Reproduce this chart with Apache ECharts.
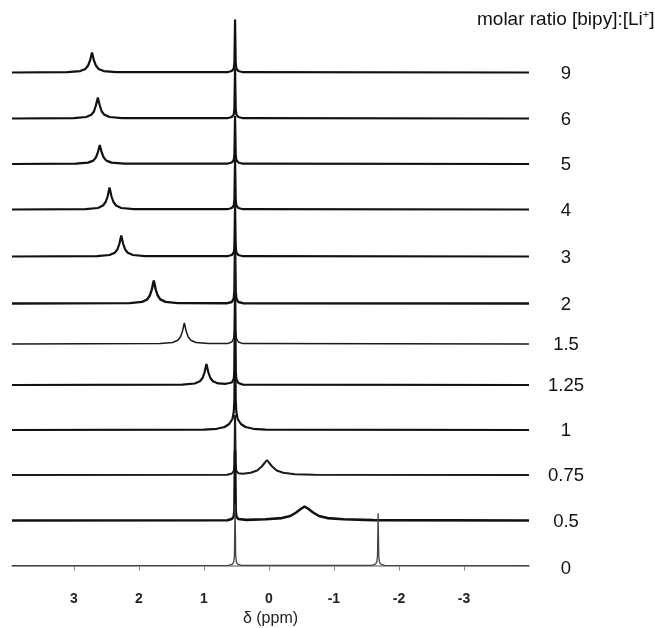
<!DOCTYPE html>
<html>
<head>
<meta charset="utf-8">
<script src="https://cdn.jsdelivr.net/npm/echarts@6/dist/echarts.min.js"></script>
<style>html,body{margin:0;padding:0;background:#fff}#c{width:655px;height:628px}</style>
</head>
<body>
<div id="c"></div>
<script>
// molar ratio [bipy]:[Li+] for each stacked spectrum (top to bottom)
const ratios = ['9', '6', '5', '4', '3', '2', '1.5', '1.25', '1', '0.75', '0.5', '0'];
const tickValues = [3, 2, 1, 0, -1, -2, -3];
const xMin = -4.0, xMax = 3.95;

// spectra: [chemical shift (ppm), intensity (arb. units)]
const spec9 = [[3.95,0],[3.1,0.4],[2.9,1.4],[2.82,3.6],[2.78,7],[2.75,12],[2.72,20],[2.69,12],[2.66,7],[2.62,3.6],[2.54,1.4],[2.35,0.4],[0.64,0.3],[0.57,1.5],[0.54,4],[0.53,10],[0.52,53],[0.51,10],[0.50,4],[0.47,1.5],[0.40,0.3],[-4.0,0]];
const spec6 = [[3.95,0],[3.0,0.4],[2.81,1.5],[2.73,3.8],[2.69,7],[2.66,13],[2.63,21],[2.60,13],[2.57,7],[2.53,3.8],[2.45,1.5],[2.26,0.4],[0.64,0.3],[0.57,1.5],[0.54,4],[0.53,10],[0.52,50],[0.51,10],[0.50,4],[0.47,1.5],[0.40,0.3],[-4.0,0]];
const spec5 = [[3.95,0],[2.97,0.4],[2.78,1.4],[2.70,3.4],[2.66,6.5],[2.63,11.5],[2.60,19],[2.57,11.5],[2.54,6.5],[2.50,3.4],[2.42,1.4],[2.23,0.4],[0.64,0.3],[0.57,1.5],[0.54,4],[0.53,10],[0.52,48],[0.51,10],[0.50,4],[0.47,1.5],[0.40,0.3],[-4.0,0]];
const spec4 = [[3.95,0],[2.82,0.4],[2.63,1.5],[2.55,4],[2.51,7.5],[2.48,13],[2.45,22],[2.42,13],[2.39,7.5],[2.35,4],[2.27,1.5],[2.08,0.4],[0.64,0.3],[0.57,1.5],[0.54,4],[0.53,10],[0.52,50],[0.51,10],[0.50,4],[0.47,1.5],[0.40,0.3],[-4.0,0]];
const spec3 = [[3.95,0],[2.64,0.4],[2.45,1.5],[2.37,3.8],[2.33,7],[2.30,12.5],[2.27,21],[2.24,12.5],[2.21,7],[2.17,3.8],[2.09,1.5],[1.90,0.4],[0.64,0.3],[0.57,1.5],[0.54,4],[0.53,10],[0.52,52],[0.51,10],[0.50,4],[0.47,1.5],[0.40,0.3],[-4.0,0]];
const spec2 = [[3.95,0],[2.14,0.4],[1.95,1.6],[1.87,4.1],[1.83,8],[1.80,14],[1.77,23],[1.74,14],[1.71,8],[1.67,4.1],[1.59,1.6],[1.40,0.4],[0.64,0.3],[0.57,1.5],[0.54,5],[0.53,12],[0.52,62],[0.51,12],[0.50,5],[0.47,1.5],[0.40,0.3],[-4.0,0]];
const spec15 = [[3.95,0],[1.67,0.4],[1.48,1.5],[1.40,3.8],[1.36,7],[1.33,12.5],[1.30,21],[1.27,12.5],[1.24,7],[1.20,3.8],[1.12,1.5],[0.93,0.4],[0.64,0.4],[0.57,2],[0.54,6],[0.53,14],[0.52,90],[0.51,14],[0.50,6],[0.47,2],[0.40,0.4],[-4.0,0]];
const spec125 = [[3.95,0],[1.33,0.4],[1.14,1.5],[1.06,3.8],[1.02,7],[0.99,12.5],[0.96,21],[0.93,12.5],[0.90,7],[0.86,3.8],[0.78,1.6],[0.66,1.2],[0.57,2.5],[0.54,6],[0.53,14],[0.52,90],[0.51,14],[0.50,6],[0.47,2],[0.40,0.4],[-4.0,0]];
const spec1 = [[3.95,0],[1.0,0.4],[0.80,1.2],[0.68,3],[0.61,6],[0.56,11],[0.54,18],[0.53,30],[0.52,95],[0.51,30],[0.50,18],[0.48,11],[0.43,6],[0.36,3],[0.24,1.2],[0.05,0.4],[-4.0,0]];
const spec075 = [[3.95,0],[0.64,0.3],[0.57,1.5],[0.54,4],[0.53,10],[0.52,60],[0.51,10],[0.50,4],[0.47,1.8],[0.40,1.2],[0.28,2.2],[0.18,4.5],[0.11,8.5],[0.06,12.5],[0.03,15],[0.0,12.5],[-0.05,8.5],[-0.12,4.5],[-0.22,2.2],[-0.40,0.8],[-0.70,0.2],[-4.0,0]];
const spec05 = [[3.95,0],[0.64,0.3],[0.57,1.5],[0.54,4],[0.53,10],[0.52,70],[0.51,10],[0.50,4],[0.47,1.5],[0.35,0.6],[0.05,1.2],[-0.20,2.4],[-0.33,4.5],[-0.42,8],[-0.49,11.5],[-0.55,14],[-0.61,11.5],[-0.68,8],[-0.77,4.5],[-0.90,2.4],[-1.15,1.2],[-1.6,0.4],[-4.0,0]];
const spec0 = [[3.95,0],[0.62,0.3],[0.56,1.5],[0.54,4],[0.53,10],[0.52,65],[0.51,10],[0.50,4],[0.48,1.5],[0.42,0.3],[-1.58,0.3],[-1.64,1.5],[-1.66,4],[-1.67,10],[-1.68,55],[-1.69,10],[-1.70,4],[-1.72,1.5],[-1.78,0.3],[-4.0,0]];
const spectra = [spec9, spec6, spec5, spec4, spec3, spec2, spec15, spec125, spec1, spec075, spec05, spec0];

// layout (pixels)
const baselines = [72.5, 118.5, 164, 209.5, 256.5, 303.5, 344, 385, 430, 475, 520.5, 567.5];
const widths = [2.2, 2.2, 2.2, 2.2, 2.2, 2.4, 1.5, 2.2, 2.2, 2, 2.6, 1.3];
const colors = ['#111','#111','#111','#111','#111','#111','#1a1a1a','#111','#111','#1a1a1a','#111','#444'];
const gridLeft = 12, gridWidth = 517, unitPx = 40, axisGap = 14;
const fontFam = 'Liberation Sans, Arial, sans-serif';

const grids = [], xAxes = [], yAxes = [], series = [], graphics = [];
spectra.forEach((d, i) => {
  const last = i === spectra.length - 1;
  grids.push({left: gridLeft, width: gridWidth, top: baselines[i] - unitPx, height: unitPx + (last ? axisGap : 0)});
  xAxes.push(last ? {
    gridIndex: i, type: 'value', min: xMin, max: xMax, interval: 1, inverse: true,
    axisLine: {show: true, lineStyle: {color: '#8a8a8a', width: 1.5}},
    axisTick: {show: true, length: 5, lineStyle: {color: '#8a8a8a', width: 1}, customValues: tickValues},
    axisLabel: {show: true, color: '#222', fontSize: 14, fontWeight: 'bold', fontFamily: fontFam, margin: 13,
      showMinLabel: false, showMaxLabel: false,
      formatter: v => (tickValues.indexOf(v) >= 0 ? String(v) : '')},
    splitLine: {show: false},
    name: 'δ (ppm)', nameLocation: 'middle', nameGap: 32,
    nameTextStyle: {color: '#222', fontSize: 16, fontFamily: fontFam}
  } : {gridIndex: i, type: 'value', min: xMin, max: xMax, inverse: true, show: false});
  yAxes.push({gridIndex: i, type: 'value', min: last ? -axisGap : 0, max: unitPx, show: false});
  series.push({
    type: 'line', xAxisIndex: i, yAxisIndex: i, data: d, showSymbol: false, clip: false,
    lineStyle: {color: colors[i], width: widths[i]}, z: 2
  });
  graphics.push({
    type: 'text', x: 566, y: baselines[i] + 1,
    style: {text: ratios[i], fill: '#111', font: '18.5px "Liberation Sans", Arial, sans-serif', textAlign: 'center', textVerticalAlign: 'middle'}
  });
});
graphics.push({
  type: 'text', x: 477, y: 20,
  style: {
    text: '{a|molar ratio [bipy]:[Li}{s|+}{a|]}',
    textVerticalAlign: 'middle',
    rich: {
      a: {fontSize: 19, fontFamily: fontFam, fill: '#111', color: '#111', lineHeight: 22, verticalAlign: 'middle'},
      s: {fontSize: 11, fontFamily: fontFam, fill: '#111', color: '#111', lineHeight: 22, verticalAlign: 'top', padding: [0, 0, 6, 0]}
    }
  }
});

const chart = echarts.init(document.getElementById('c'), null, {renderer: 'canvas'});
chart.setOption({
  animation: false,
  backgroundColor: '#fff',
  grid: grids, xAxis: xAxes, yAxis: yAxes, series: series,
  graphic: graphics
});
</script>
</body>
</html>
